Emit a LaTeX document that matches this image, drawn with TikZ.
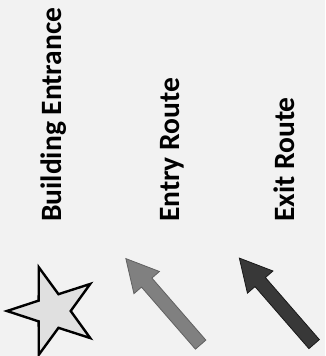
\documentclass[tikz,border=0pt]{standalone}
\usepackage{fontspec}
\setmainfont{Carlito}
\usepackage{tikz}
\usetikzlibrary{shapes.geometric,shapes.arrows}

\begin{document}
\begin{tikzpicture}[
    x=1pt, y=-1pt,
    label/.style={rotate=90, anchor=base west, inner sep=0pt,
        font=\fontsize{29.5}{30}\selectfont\bfseries},
    entrance/.style={star, star points=5, star point ratio=2.6,
        shape border rotate=90, minimum size=92pt, inner sep=0pt,
        draw=black, line width=2.4pt, fill=black!12},
    route/.style={single arrow, rotate=131, inner xsep=0pt, inner ysep=6.5pt,
        minimum height=114pt,
        single arrow head extend=10pt, single arrow tip angle=56,
        line width=0.8pt}
]
    \useasboundingbox (0,0) rectangle (325,356);
    \fill[black!5] (0,0) rectangle (325,356);

    \node[label] (lbuilding) at (61,222) {Building Entrance};
    \node[label] (lentry) at (179,222) {Entry Route};
    \node[label] (lexit) at (294,222) {Exit Route};

    \node[entrance] (star) at (53,311) {};
    \node[route, fill=black!50, draw=black!62] (entry) at (167.5,306.5) {};
    \node[route, fill=black!78, draw=black!90] (exit) at (281,306) {};
\end{tikzpicture}
\end{document}
